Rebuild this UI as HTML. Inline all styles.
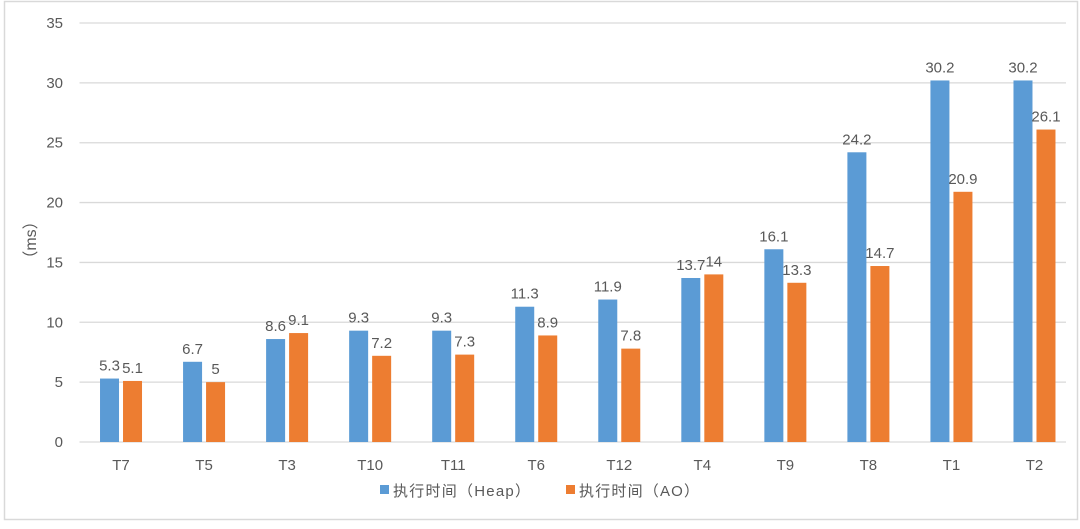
<!DOCTYPE html>
<html><head><meta charset="utf-8"><style>
html,body{margin:0;padding:0;background:#fff;}
svg text{font-family:"Liberation Sans","Noto Sans CJK SC",sans-serif;fill:#595959;}
</style></head><body>
<svg id="chart" width="1080" height="524" viewBox="0 0 1080 524" xmlns="http://www.w3.org/2000/svg">
<rect x="4.5" y="1.5" width="1073" height="518" fill="#fff" stroke="#d9d9d9" stroke-width="1.5"/>
<g id="grid"></g><g id="bars"></g><g id="labels"></g>
<text transform="translate(36,240) rotate(-90)" text-anchor="middle" font-size="16">（ms）</text>
<g>
<rect x="380" y="485" width="9" height="9" fill="#5B9BD5"/>
<text x="393" y="496" font-size="15" textLength="137">执行时间（Heap）</text>
<rect x="566" y="485" width="9" height="9" fill="#ED7D31"/>
<text x="579" y="496" font-size="15" textLength="120">执行时间（AO）</text>
</g>
</svg>
<script>
const categories=["T7","T5","T3","T10","T11","T6","T12","T4","T9","T8","T1","T2"];
const heapValues=[5.3,6.7,8.6,9.3,9.3,11.3,11.9,13.7,16.1,24.2,30.2,30.2];
const aoValues=[5.1,5,9.1,7.2,7.3,8.9,7.8,14,13.3,14.7,20.9,26.1];
const yTicks=[0,5,10,15,20,25,30,35];
const NS="http://www.w3.org/2000/svg";
const x0=79.5,x1=1076,y0=442,yTop=23,yMax=35;
const band=(x1-x0)/categories.length;
const yS=v=>y0-(v/yMax)*(y0-yTop);
const xC=i=>x0+band*(i+0.5);
function mk(tag,attrs,parent,txt){const e=document.createElementNS(NS,tag);for(const k in attrs)e.setAttribute(k,attrs[k]);if(txt!==undefined)e.textContent=txt;parent.appendChild(e);return e;}
const grid=document.getElementById('grid'),bars=document.getElementById('bars'),labels=document.getElementById('labels');
yTicks.forEach(t=>{
  const l=mk('line',{x1:x0,x2:1066,y1:yS(t),y2:yS(t),stroke:'#d9d9d9','stroke-width':1.3},grid);
  
  
  const tx=mk('text',{x:63,y:yS(t)+5,'text-anchor':'end','font-size':15},grid,t);
  
  
});
categories.forEach((c,i)=>{
  const cx=xC(i);
  const b=mk('rect',{x:cx-21,y:yS(heapValues[i]),width:19,height:y0-yS(heapValues[i]),fill:'#5B9BD5'},bars);
  
  
  const o=mk('rect',{x:cx+2,y:yS(aoValues[i]),width:19,height:y0-yS(aoValues[i]),fill:'#ED7D31'},bars);
  
  
  const hl=mk('text',{x:cx-11.5,y:yS(heapValues[i])-8,'text-anchor':'middle','font-size':15},labels,heapValues[i]);
  
  
  const al=mk('text',{x:cx+11.5,y:yS(aoValues[i])-8,'text-anchor':'middle','font-size':15},labels,aoValues[i]);
  
  
  const xl=mk('text',{x:cx,y:470,'text-anchor':'middle','font-size':15},labels,c);
  
  
});
</script>
</body></html>
